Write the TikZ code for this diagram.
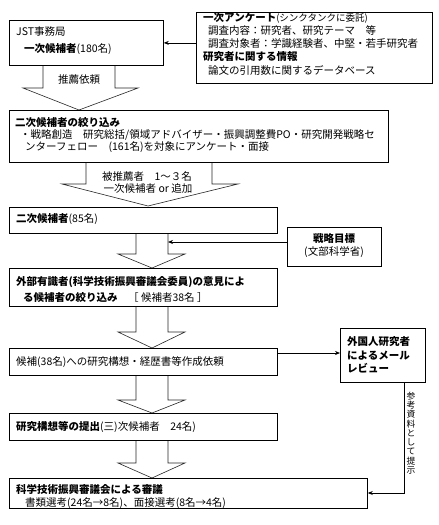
\documentclass[tikz,border=0pt]{standalone}
\usepackage{fontspec}
\setmainfont{Noto Sans CJK JP}
\usetikzlibrary{arrows.meta}
\tikzset{
  box/.style={draw=black, line width=0.8pt, fill=white, inner sep=0pt, rectangle},
  txt/.style={anchor=west, inner sep=0pt, font=\fontsize{10.5}{12}\selectfont},
  ctxt/.style={anchor=center, inner sep=0pt, font=\fontsize{10.5}{12}\selectfont},
  bigarrow/.style={draw=black!85, line width=0.6pt, fill=white},
  thinarrow/.style={draw=black, line width=0.7pt, -{Stealth[length=5pt,width=4pt]}}
}
\newcommand\mybox[5]{\node[box, anchor=north west, minimum width={(#4-#2)*1pt}, minimum height={(#5-#3)*1pt}] (#1) at (#2,#3) {};}
% shaft x1 x2, wing w1 w2, tip x, ytop, yneck, ytip
\newcommand\bigarr[8]{\draw[bigarrow] (#1,#6) -- (#1,#7) -- (#3,#7) -- (#5,#8) -- (#4,#7) -- (#2,#7) -- (#2,#6);}
\begin{document}
\begin{tikzpicture}[x=1pt,y=-1pt]
\useasboundingbox (0,0) rectangle (439,525);
\fill[white] (0,0) rectangle (439,525);

% big arrows first (boxes drawn over them)
\bigarr{43}{115}{23}{138}{79}{64}{88}{110}
\bigarr{86}{212}{62}{238}{148}{161}{184}{206}
\bigarr{136}{168}{118}{185}{152}{232}{254}{268}
\bigarr{136}{168}{118}{185}{152}{305}{332}{348}
\bigarr{136}{168}{118}{185}{152}{374}{400}{413}
\bigarr{136}{168}{118}{185}{152}{439}{463}{478}

% boxes
\mybox{jst}{9}{20}{163}{65}
\mybox{survey}{196}{12}{432}{83}
\mybox{narrow}{9}{110}{388}{162}
\mybox{second}{9}{207}{277}{233}
\mybox{goal}{287}{227}{381}{266}
\mybox{expert}{9}{268}{277}{306}
\mybox{request}{9}{348}{277}{375}
\mybox{foreign}{340}{328}{425}{382}
\mybox{submit}{9}{413}{277}{440}
\mybox{council}{9}{478}{367}{508}

% texts
\node[txt] (t1) at (16,32) {JST事務局};
\node[txt] (t2) at (24,49) {\bfseries 一次候補者\mdseries (180名)};
\node[ctxt] (t3) at (79,80) {推薦依頼};

\node[txt] (s1) at (203,18) {\bfseries 一次アンケート\mdseries {\fontsize{9.5}{11}\selectfont (シンクタンクに委託)}};
\node[txt] (s2) at (208,31) {調査内容：研究者、研究テーマ　等};
\node[txt] (s3) at (208,44) {調査対象者：学識経験者、中堅・若手研究者};
\node[txt] (s4) at (203,57) {\bfseries 研究者に関する情報};
\node[txt] (s5) at (208,70) {論文の引用数に関するデータベース};

\node[txt] (n1) at (15,123) {\bfseries 二次候補者の絞り込み};
\node[txt] (n2) at (20,135) {・戦略創造　研究総括/領域アドバイザー・振興調整費PO・研究開発戦略セ};
\node[txt] (n3) at (25,147) {ンターフェロー　(161名)を対象にアンケート・面接};

\node[ctxt] (a2a) at (147,177) {被推薦者　1～３名};
\node[ctxt] (a2b) at (148,189) {一次候補者 or 追加};

\node[txt] (c1) at (16,219) {\bfseries 二次候補者\mdseries (85名)};

\node[ctxt] (g1) at (334,239) {\bfseries 戦略目標};
\node[ctxt] (g2) at (334,252) {(文部科学省)};

\node[txt] (e1) at (16,282) {\bfseries 外部有識者(科学技術振興審議会委員)の意見によ};
\node[txt] (e2) at (23,298) {\bfseries る候補者の絞り込み\mdseries　［ 候補者38名 ］};

\node[txt] (r1) at (16,362) {候補(38名)への研究構想・経歴書等作成依頼};

\node[txt, align=left, font=\fontsize{10.5}{13.5}\selectfont\bfseries] (f1) at (347,355) {外国人研究者\\によるメール\\レビュー};

\node[txt] (p1) at (16,427) {\bfseries 研究構想等の提出\mdseries (三)次候補者　24名)};

\node[txt] (k1) at (16,489) {\bfseries 科学技術振興審議会による審議};
\node[txt] (k2) at (25,503) {書類選考(24名→8名)、面接選考(8名→4名)};

% connectors
\draw[thinarrow] (survey.west |- jst.east) -- (jst.east);
\coordinate (shaft3) at (168,242);
\draw[thinarrow] (goal.west |- shaft3) -- (shaft3);
\coordinate (reqout) at (277,353);
\draw[thinarrow] (reqout) -- (foreign.west |- reqout);
\coordinate (fdown) at (404,382);
\coordinate (fcorner) at (404,493);
\draw[thinarrow] (fdown) -- (fcorner) -- (council.east |- fcorner);
\node[anchor=center, inner sep=0pt, align=center, font=\fontsize{8.8}{9.3}\selectfont] (v1) at (411,433) {参\\考\\資\\料\\と\\し\\て\\提\\示};
\end{tikzpicture}
\end{document}
